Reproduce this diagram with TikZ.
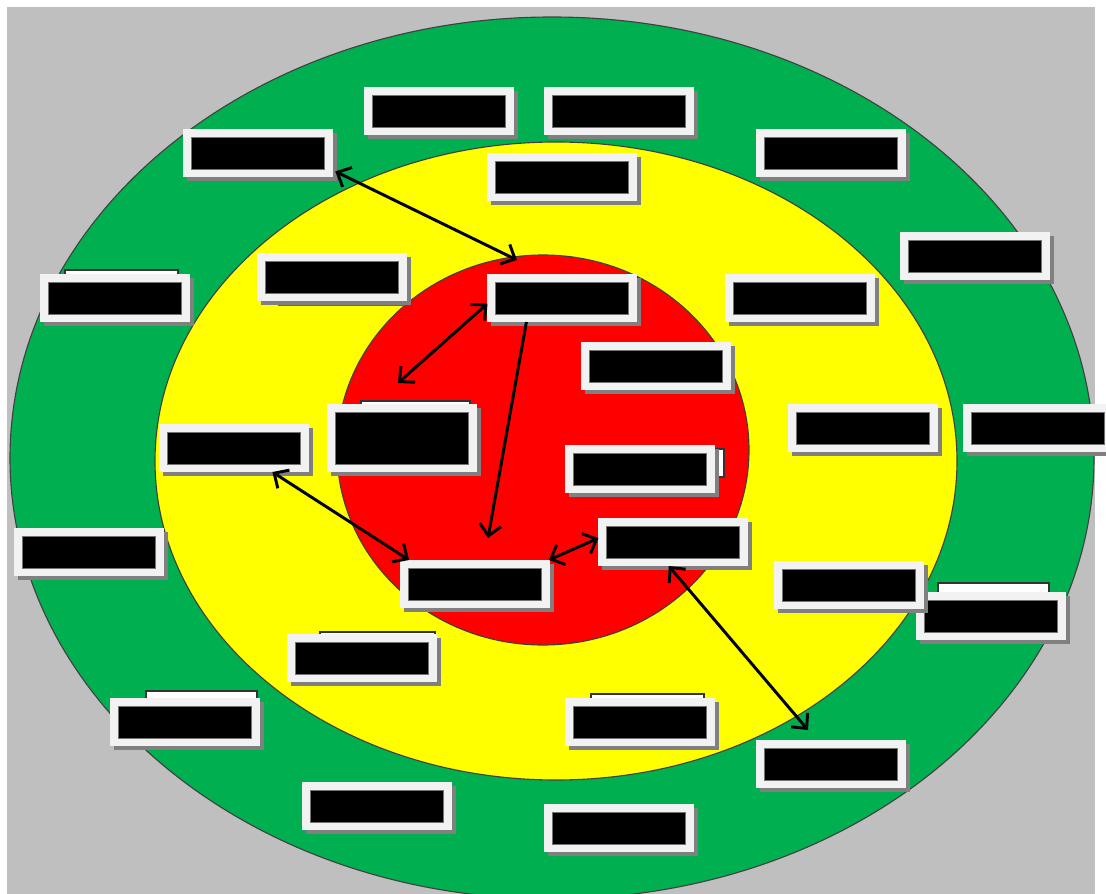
\documentclass[tikz,border=0pt]{standalone}
\definecolor{BgGrey}   {RGB}{191,191,191}
\definecolor{RingGreen}{RGB}{0,176,80}
\definecolor{RingYellow}{RGB}{255,255,0}
\definecolor{CoreRed}  {RGB}{255,0,0}
\definecolor{BoxWhite} {RGB}{242,242,242}
\usetikzlibrary{arrows.meta,calc,shadows}

\begin{document}
\begin{tikzpicture}[x=0.025cm,y=-0.025cm,
  >={Straight Barb[length=2.8mm,width=5.4mm]},
  ring/.style={draw=black!75,line width=0.8pt},
  box/.style={fill=BoxWhite,inner sep=0pt,outer sep=0pt,
              minimum width=3.725cm,minimum height=1.2cm,
              drop shadow={shadow xshift=0.1cm,shadow yshift=-0.1cm,
                           fill=black!50,opacity=1},
              path picture={\filldraw[fill=black,draw=black!55,line width=0.5pt]
                ([xshift=0.2cm,yshift=-0.2cm]path picture bounding box.north west)
                rectangle
                ([xshift=-0.2cm,yshift=0.18cm]path picture bounding box.south east);}},
  backbox/.style={fill=white,draw=black!80,line width=0.8pt},
  link/.style={black,line width=2.1pt}]
  \useasboundingbox (0,0) rectangle (1106,894);
  \fill[white] (0,0) rectangle (1106,894);
  \fill[BgGrey] (7,7) rectangle (1095,894);

  % target rings
  \begin{scope}
    \clip (7,7) rectangle (1095,894);
    \draw[ring,fill=RingGreen] (552,458) ellipse [x radius=542,y radius=441];
  \end{scope}
  \draw[ring,fill=RingYellow] (556,461) ellipse [x radius=401,y radius=319];
  \draw[ring,fill=CoreRed] (543,450) ellipse [x radius=206,y radius=195];

  % hidden boxes peeking out
  \draw[backbox] (65,270) rectangle (178,300);
  \draw[backbox] (361,401) rectangle (470,440);
  \draw[backbox] (700,449) rectangle (724,477);
  \draw[backbox] (938,583) rectangle (1049,620);
  \draw[backbox] (320,632) rectangle (435,660);
  \draw[backbox] (146,691) rectangle (257,720);
  \draw[backbox] (591,694) rectangle (704,720);
  \fill[black!60] (278,300) rectangle (405,306);

  % outer ring
  \node[box] (b1)  at (439,111) {};
  \node[box] (b2)  at (619,111) {};
  \node[box] (b3)  at (258,153) {};
  \node[box] (b4)  at (831,153) {};
  \node[box] (b6)  at (975,256) {};
  \node[box] (b7)  at (115,298) {};
  \node[box] (b15) at (1038,428) {};
  \node[box] (b17) at (89,552) {};
  \node[box] (b21) at (991,616) {};
  \node[box] (b23) at (185,722) {};
  \node[box] (b25) at (831,764) {};
  \node[box] (b26) at (377,806) {};
  \node[box] (b27) at (619,828) {};
  % middle ring
  \node[box] (b5)  at (562,177) {};
  \node[box] (b8)  at (332,277) {};
  \node[box] (b10) at (800,298) {};
  \node[box] (b13) at (234,448) {};
  \node[box] (b14) at (863,428) {};
  \node[box] (b20) at (849,585) {};
  \node[box] (b22) at (362,658) {};
  \node[box] (b24) at (640,722) {};
  % core
  \node[box] (b9)  at (562,298) {};
  \node[box] (b11) at (656,366) {};
  \node[box,minimum height=1.7cm] (b12) at (402,438) {};
  \node[box] (b16) at (640,469) {};
  \node[box] (b18) at (673,542) {};
  \node[box] (b19) at (475,584) {};

  \coordinate (redtop) at (517,260);
  \coordinate (redleft) at (398,383);
  \coordinate (redlow) at (488,538);
  \coordinate (greenlow) at (808,730);

  \draw[link,<->] ([xshift=2pt,yshift=4pt]b3.south east) -- (redtop);
  \draw[link,<->] ([yshift=-4pt]b9.west) -- (redleft);
  \draw[link,->] (b9.214) -- (redlow);
  \draw[link,<->] (b13.328) -- (b19.160);
  \draw[link,<->] (b19.18) -- (b18.177);
  \draw[link,<->] (b18.260) -- (greenlow);
\end{tikzpicture}
\end{document}
